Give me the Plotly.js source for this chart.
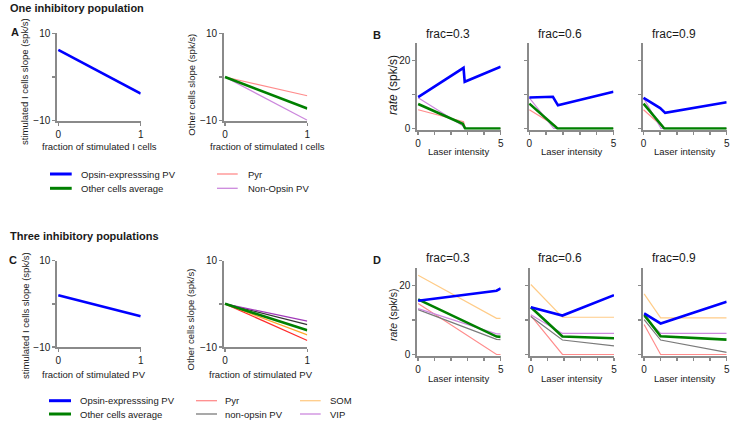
<!DOCTYPE html>
<html><head><meta charset="utf-8">
<script src="https://cdn.plot.ly/plotly-3.0.1.min.js"></script>
<style>html,body{margin:0;padding:0;background:#fff}#chart{width:732px;height:421px}</style>
</head><body><div id="chart"></div>
<script>
// ================= DATA =================
// Panels A / C : slope vs fraction of stimulated cells
const fracX = [0, 1];
const aOpsinSlope    = [6.2, -3.8];
const aPyrSlope      = [0, -4.3];
const aOtherAvgSlope = [0, -7.2];
const aNonOpsinSlope = [0, -9.9];

const cOpsinSlope    = [2.0, -2.9];
const cPyrSlope      = [0, -8.5];
const cSomSlope      = [0, -7.2];
const cOtherAvgSlope = [0, -6.1];
const cNonOpsinSlope = [0, -4.8];
const cVipSlope      = [0, -4.0];

// Panel B : rate vs laser intensity (one inhibitory population), per frac
const fracTitles = ['frac=0.3', 'frac=0.6', 'frac=0.9'];
const bOpsinX    = [[0, 2.75, 2.82, 5], [0, 1.4, 1.7, 5], [0, 1.0, 1.3, 5]];
const bOpsinY    = [[9.2, 17.8, 13.7, 18.1], [9.1, 9.3, 6.8, 10.8], [9.0, 6.0, 4.6, 7.7]];
const bOtherX    = [[0, 2.7, 2.85, 5], [0, 1.67, 5], [0, 1.25, 5]];
const bOtherY    = [[7.2, 1.4, 0, 0], [7.3, 0, 0], [7.3, 0, 0]];
const bPyrX      = [[0, 2.75, 2.85, 5], [0, 1.55, 1.67, 5], [0, 1.1, 1.25, 5]];
const bPyrY      = [[5.5, 2.0, 0, 0], [5.5, 0.8, 0, 0], [5.5, 0.6, 0, 0]];
const bNonOpsinX = [[0, 2.7, 2.8, 5], [0, 1.45, 5], [0, 1.05, 5]];
const bNonOpsinY = [[9.0, 0.8, 0, 0], [9.0, 0, 0], [9.0, 0, 0]];

// Panel D : rate vs laser intensity (three inhibitory populations), per frac
const dX         = [[0, 4.75, 5], [0, 1.9, 5], [0, 1.0, 5]];
const dOpsinY    = [[15.6, 18.5, 19.2], [13.7, 11.3, 17.2], [11.9, 9.0, 15.3]];
const dSomY      = [[23.0, 10.5, 10.5], [20.3, 10.8, 10.8], [17.6, 10.6, 10.6]];
const dOtherY    = [[16.0, 5.2, 5.1], [13.7, 5.2, 4.7], [11.5, 5.3, 4.3]];
const dVipY      = [[13.3, 6.0, 6.0], [11.5, 6.1, 6.1], [11.0, 6.1, 6.1]];
const dNonOpsinY = [[13.0, 4.4, 4.3], [11.0, 4.2, 2.5], [10.1, 4.2, 0.6]];
const dPyrY      = [[14.8, 0, 0], [11.3, 0, 0], [8.7, 0, 0]];

// Tick labels
const slopeTickVals = [-10, 0, 10];
const slopeTickText = ['\u221210', '', '10'];
const fracTickVals = [0, 1];
const fracTickText = ['0', '1'];
const rateTickVals = [0, 10, 20];
const rateTickText = ['0', '', '20'];
const laserTickVals = [0, 1, 2, 3, 4, 5];
const laserTickText = ['0', '', '', '', '', '5'];

// Legend labels
const legendA = ['Opsin-expresssing PV', 'Other cells average', 'Pyr', 'Non-Opsin PV'];
const legendC = ['Opsin-expresssing PV', 'Other cells average', 'Pyr', 'non-opsin PV', 'SOM', 'VIP'];

// ================= STYLE =================
const W = 732, H = 421;
const px = x => x / W, py = y => 1 - y / H;
const FONT = 'Liberation Sans, Arial, sans-serif';
const TXT = '#1a1a1a';
const AX = '#8a8a8a';
const COL = {
  blue: '#0000ff', green: '#008000', pyr: '#ff8c8c', nonop: '#cc88dd',
  gray: '#7a7a7a', som: '#ffcc88', vip: '#cc88dd',
  cRed: '#ff2a2a', cOrange: '#ffa628', cBlack: '#333333', cPurple: '#a038b8'
};

const layout = {
  width: W, height: H, margin: {l: 0, r: 0, t: 0, b: 0},
  paper_bgcolor: '#fff', plot_bgcolor: 'rgba(0,0,0,0)',
  showlegend: false, font: {family: FONT, color: TXT, size: 10},
  annotations: [], shapes: []
};

function addAxes(n, xpx, ypx, xr, yr, xtv, xtt, ytv, ytt) {
  const xs = n === 1 ? '' : String(n);
  const common = {
    showline: true, linecolor: AX, linewidth: 2, ticks: 'outside', ticklen: 3,
    tickcolor: AX, tickwidth: 1.5, showgrid: false, zeroline: false,
    tickfont: {family: FONT, size: 10, color: TXT}, layer: 'below traces',
    fixedrange: true, tickmode: 'array'
  };
  layout['xaxis' + xs] = Object.assign({}, common, {
    domain: [px(xpx[0]), px(xpx[1])], anchor: 'y' + xs, range: xr,
    tickvals: xtv, ticktext: xtt
  });
  layout['yaxis' + xs] = Object.assign({}, common, {
    domain: [py(ypx[1]), py(ypx[0])], anchor: 'x' + xs, range: yr,
    tickvals: ytv, ticktext: ytt
  });
}

const slopeXR = [-0.012, 1], slopeYR = [-10, 10];
const rateXR = [-0.05, 5], rateYR = [-0.35, 25];

addAxes(1, [57.3, 140.7], [33.3, 120.7], slopeXR, slopeYR, fracTickVals, fracTickText, slopeTickVals, slopeTickText);
addAxes(2, [224, 307.3], [33.3, 120.7], slopeXR, slopeYR, fracTickVals, fracTickText, slopeTickVals, slopeTickText);
const bX = [[417.3, 500.7], [528.5, 613.5], [642.7, 726.7]];
const dXp = [[417.3, 500.7], [530, 614], [643.3, 726.7]];
bX.forEach((xp, i) => addAxes(3 + i, xp, [43.3, 129.7], rateXR, rateYR, laserTickVals, laserTickText,
  rateTickVals, i === 0 ? rateTickText : ['', '', '']));
addAxes(6, [57.3, 140.7], [260.7, 347], slopeXR, slopeYR, fracTickVals, fracTickText, slopeTickVals, slopeTickText);
addAxes(7, [224, 307.3], [260.7, 347], slopeXR, slopeYR, fracTickVals, fracTickText, slopeTickVals, slopeTickText);
dXp.forEach((xp, i) => addAxes(8 + i, xp, [268.3, 355.7], rateXR, rateYR, laserTickVals, laserTickText,
  rateTickVals, i === 0 ? rateTickText : ['', '', '']));

// ================= TRACES =================
const traces = [];
function line(n, x, y, color, width) {
  const s = n === 1 ? '' : String(n);
  traces.push({type: 'scatter', mode: 'lines', x: x, y: y, xaxis: 'x' + s, yaxis: 'y' + s,
    line: {color: color, width: width}, hoverinfo: 'skip', showlegend: false});
}
const THICK = 2.6, THIN = 1.2;
// A
line(1, fracX, aOpsinSlope, COL.blue, THICK);
line(2, fracX, aPyrSlope, COL.pyr, THIN);
line(2, fracX, aNonOpsinSlope, COL.nonop, THIN);
line(2, fracX, aOtherAvgSlope, COL.green, THICK);
// B
for (let i = 0; i < 3; i++) {
  const n = 3 + i;
  line(n, bPyrX[i], bPyrY[i], COL.pyr, THIN);
  line(n, bNonOpsinX[i], bNonOpsinY[i], COL.nonop, THIN);
  line(n, bOtherX[i], bOtherY[i], COL.green, THICK);
  line(n, bOpsinX[i], bOpsinY[i], COL.blue, THICK);
}
// C
line(6, fracX, cOpsinSlope, COL.blue, THICK);
line(7, fracX, cPyrSlope, COL.cRed, THIN);
line(7, fracX, cSomSlope, COL.cOrange, THIN);
line(7, fracX, cNonOpsinSlope, COL.cBlack, THIN);
line(7, fracX, cVipSlope, COL.cPurple, THIN);
line(7, fracX, cOtherAvgSlope, COL.green, THICK);
// D
for (let i = 0; i < 3; i++) {
  const n = 8 + i;
  line(n, dX[i], dPyrY[i], COL.pyr, THIN);
  line(n, dX[i], dSomY[i], COL.som, THIN);
  line(n, dX[i], dNonOpsinY[i], COL.gray, THIN);
  line(n, dX[i], dVipY[i], COL.vip, THIN);
  line(n, dX[i], dOtherY[i], COL.green, THICK);
  line(n, dX[i], dOpsinY[i], COL.blue, THICK);
}

// ================= TEXT =================
function txt(text, x, y, opts) {
  layout.annotations.push(Object.assign({
    text: text, x: px(x), y: py(y), xref: 'paper', yref: 'paper', showarrow: false,
    xanchor: 'center', yanchor: 'middle', font: {family: FONT, size: 10, color: TXT}
  }, opts || {}));
}
txt('<b>One inhibitory population</b>', 8, 8, {xanchor: 'left', font: {family: FONT, size: 11, color: TXT}});
txt('<b>Three inhibitory populations</b>', 8, 236, {xanchor: 'left', font: {family: FONT, size: 11, color: TXT}});
txt('<b>A</b>', 14.5, 31.5, {font: {family: FONT, size: 11, color: TXT}});
txt('<b>B</b>', 377, 35, {font: {family: FONT, size: 11, color: TXT}});
txt('<b>C</b>', 13, 260, {font: {family: FONT, size: 11, color: TXT}});
txt('<b>D</b>', 377, 260, {font: {family: FONT, size: 11, color: TXT}});

// subplot titles
const bTitleX = [447.5, 559.5, 674];
fracTitles.forEach((t, i) => {
  txt(t, bTitleX[i], 33.5, {font: {family: FONT, size: 12, color: TXT}});
  txt(t, bTitleX[i], 258, {font: {family: FONT, size: 12, color: TXT}});
});
// x axis titles
txt('fraction of stimulated I cells', 99, 146.7, {font: {family: FONT, size: 9.5, color: TXT}});
txt('fraction of stimulated I cells', 267, 146.7, {font: {family: FONT, size: 9.5, color: TXT}});
txt('fraction of stimulated PV', 93.7, 374, {font: {family: FONT, size: 9.5, color: TXT}});
txt('fraction of stimulated PV', 260.8, 374, {font: {family: FONT, size: 9.5, color: TXT}});
[459, 571.5, 685].forEach(x => {
  txt('Laser intensity', x, 151.5, {font: {family: FONT, size: 9.5, color: TXT}});
  txt('Laser intensity', x, 378, {font: {family: FONT, size: 9.5, color: TXT}});
});
// y axis titles
txt('stimulated I cells slope (spk/s)', 25, 82, {textangle: -90, font: {family: FONT, size: 9.5, color: TXT}});
txt('Other cells slope (spk/s)', 190.7, 85, {textangle: -90, font: {family: FONT, size: 9.5, color: TXT}});
txt('stimulated I cells slope (spk/s)', 25, 316, {textangle: -90, font: {family: FONT, size: 9.5, color: TXT}});
txt('Other cells slope (spk/s)', 190, 319.5, {textangle: -90, font: {family: FONT, size: 9.5, color: TXT}});
txt('<i>rate</i> (spk/s)', 393, 85, {textangle: -90, font: {family: FONT, size: 12, color: TXT}});
txt('<i>rate</i> (spk/s)', 393, 315, {textangle: -90, font: {family: FONT, size: 10.5, color: TXT}});

// ================= LEGENDS =================
function legendItem(label, color, width, x0, x1, xt, y) {
  layout.shapes.push({type: 'line', xref: 'paper', yref: 'paper', x0: px(x0), x1: px(x1), y0: py(y), y1: py(y),
    line: {color: color, width: width}});
  txt(label, xt, y, {xanchor: 'left', font: {family: FONT, size: 9.5, color: TXT}});
}
legendItem(legendA[0], COL.blue, 3, 50, 71.7, 78.5, 174);
legendItem(legendA[1], COL.green, 3, 50, 71.7, 78.5, 188.3);
legendItem(legendA[2], COL.pyr, 1.3, 217, 237.7, 245.5, 174);
legendItem(legendA[3], COL.nonop, 1.3, 217, 237.7, 245.5, 188.3);

legendItem(legendC[0], COL.blue, 3, 49, 71, 78, 400.7);
legendItem(legendC[1], COL.green, 3, 49, 71, 78, 414);
legendItem(legendC[2], COL.pyr, 1.3, 196, 217, 223, 400.7);
legendItem(legendC[3], COL.gray, 1.3, 196, 217, 223, 414);
legendItem(legendC[4], COL.som, 1.3, 300, 320.7, 328, 400.7);
legendItem(legendC[5], COL.vip, 1.3, 300, 320.7, 328, 414);

Plotly.newPlot('chart', traces, layout, {staticPlot: true, displayModeBar: false});
</script>
</body></html>
